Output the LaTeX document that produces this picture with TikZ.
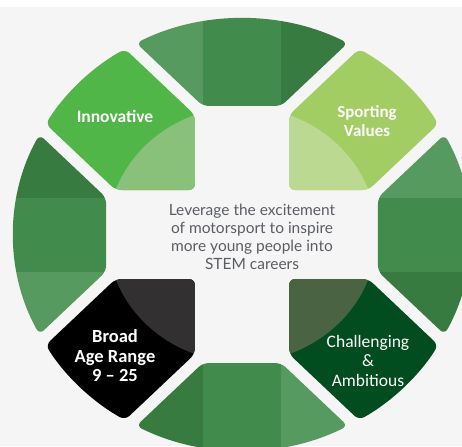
\documentclass[tikz,border=0pt]{standalone}
\usepackage{fontspec}
\setmainfont{Carlito}
\newfontfamily\latofont{Lato}
\definecolor{bgc}{HTML}{F5F5F5}
\definecolor{segL}{HTML}{569A5F}
\definecolor{segM}{HTML}{418C4D}
\definecolor{segD}{HTML}{387B41}
\definecolor{innoC}{HTML}{50B648}
\definecolor{innoL}{HTML}{89C17A}
\definecolor{sporC}{HTML}{A2CD62}
\definecolor{sporL}{HTML}{BCD991}
\definecolor{broC}{HTML}{000000}
\definecolor{broL}{HTML}{323031}
\definecolor{chaC}{HTML}{024D20}
\definecolor{chaL}{HTML}{4A6342}
\definecolor{midtext}{HTML}{5A5D63}
\tikzset{
  seglabel/.style={text=white, align=center, font=\bfseries\fontsize{17.5}{19.5}\selectfont, inner sep=0pt},
  midlabel/.style={text=midtext, align=center, font=\latofont\fontsize{15.5}{18}\selectfont, inner sep=0pt},
}
\newcommand{\segpath}{(-37,128.5) -- (37,128.5) -- (99.97,191.47) arc[start angle=62.43, end angle=117.57, radius=216] -- cycle}
\newcommand{\tilepath}{(-44.5,44.5) -- (-44.5,119.5) -- (-110.56,185.56) arc[start angle=120.79, end angle=149.21, radius=216] -- (-119.5,44.5) -- cycle}
\newcommand{\drawtile}[3]{%
  \begin{scope}[rotate=#1]
    \begin{scope}
      \clip[rounded corners=6] \tilepath;
      \fill[#2] (-230,0) rectangle (0,230);
      \fill[#3] (0,0) circle[radius=127.5];
    \end{scope}
  \end{scope}}
\begin{document}
\begin{tikzpicture}[x=1pt,y=1pt]
\useasboundingbox (0,0) rectangle (462,-446);
\fill[bgc] (0,0) rectangle (462,-446);
\fill[white] (0,0) rectangle (462,-7);
\begin{scope}
  \clip (0,0) rectangle (462,-446);
  \begin{scope}[shift={(242,-234.5)}, xscale=1.058]
    \foreach \r in {0,90,180,270} {
      \begin{scope}[rotate=\r]
        \begin{scope}
          \clip[rounded corners=6] \segpath;
          \fill[segM] (-37,120) rectangle (37,230);
          \fill[segL] (-230,120) rectangle (-37,230);
          \fill[segD] (37,120) rectangle (230,230);
        \end{scope}
      \end{scope}
    }
    \drawtile{0}{innoC}{innoL}
    \drawtile{-90}{sporC}{sporL}
    \drawtile{180}{chaC}{chaL}
    \drawtile{90}{broC}{broL}
  \end{scope}
\end{scope}
\node[seglabel] (inno) at (115,-116) {Innovative};
\node[seglabel, font=\bfseries\fontsize{17}{19}\selectfont] (spor) at (367,-121) {Sporting\\Values};
\node[seglabel, font=\bfseries\fontsize{18.5}{19.5}\selectfont] (broad) at (115,-356) {Broad\\Age Range\\9 – 25};
\node[seglabel, font=\fontsize{17.5}{19.5}\selectfont] (chal) at (368,-360.5) {Challenging\\\&\\Ambitious};
\node[midlabel] (mid) at (252,-237) {Leverage the excitement\\of motorsport to inspire\\more young people into\\STEM careers};
\end{tikzpicture}
\end{document}
